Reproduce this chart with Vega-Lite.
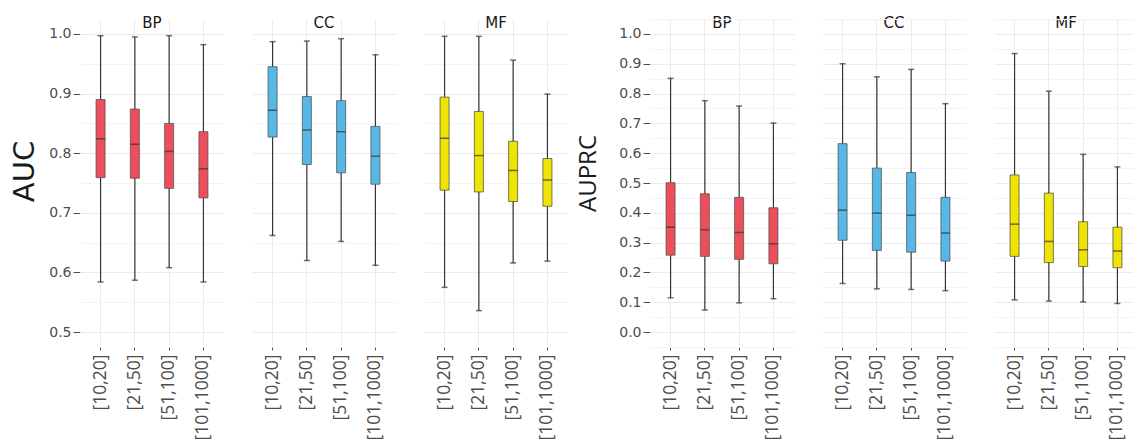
{
  "$schema": "https://vega.github.io/schema/vega-lite/v6.json",
  "padding": {"left": 10, "top": 16, "right": 0, "bottom": 0},
  "background": "white",
  "datasets": {
    "auc": [
      {"ont": "BP", "bin": "[10,20]", "lo": 0.584, "q1": 0.759, "med": 0.824, "q3": 0.890, "hi": 0.997},
      {"ont": "BP", "bin": "[21,50]", "lo": 0.587, "q1": 0.758, "med": 0.815, "q3": 0.874, "hi": 0.995},
      {"ont": "BP", "bin": "[51,100]", "lo": 0.608, "q1": 0.741, "med": 0.803, "q3": 0.850, "hi": 0.997},
      {"ont": "BP", "bin": "[101,1000]", "lo": 0.584, "q1": 0.725, "med": 0.774, "q3": 0.836, "hi": 0.982},
      {"ont": "CC", "bin": "[10,20]", "lo": 0.662, "q1": 0.827, "med": 0.872, "q3": 0.945, "hi": 0.987},
      {"ont": "CC", "bin": "[21,50]", "lo": 0.620, "q1": 0.781, "med": 0.839, "q3": 0.895, "hi": 0.988},
      {"ont": "CC", "bin": "[51,100]", "lo": 0.652, "q1": 0.767, "med": 0.836, "q3": 0.888, "hi": 0.992},
      {"ont": "CC", "bin": "[101,1000]", "lo": 0.612, "q1": 0.748, "med": 0.795, "q3": 0.845, "hi": 0.965},
      {"ont": "MF", "bin": "[10,20]", "lo": 0.575, "q1": 0.738, "med": 0.825, "q3": 0.894, "hi": 0.996},
      {"ont": "MF", "bin": "[21,50]", "lo": 0.536, "q1": 0.735, "med": 0.796, "q3": 0.870, "hi": 0.996},
      {"ont": "MF", "bin": "[51,100]", "lo": 0.616, "q1": 0.719, "med": 0.771, "q3": 0.820, "hi": 0.956},
      {"ont": "MF", "bin": "[101,1000]", "lo": 0.619, "q1": 0.711, "med": 0.755, "q3": 0.791, "hi": 0.899}
    ],
    "auprc": [
      {"ont": "BP", "bin": "[10,20]", "lo": 0.115, "q1": 0.258, "med": 0.352, "q3": 0.501, "hi": 0.851},
      {"ont": "BP", "bin": "[21,50]", "lo": 0.074, "q1": 0.254, "med": 0.343, "q3": 0.464, "hi": 0.776},
      {"ont": "BP", "bin": "[51,100]", "lo": 0.098, "q1": 0.244, "med": 0.334, "q3": 0.452, "hi": 0.758},
      {"ont": "BP", "bin": "[101,1000]", "lo": 0.112, "q1": 0.229, "med": 0.296, "q3": 0.417, "hi": 0.701},
      {"ont": "CC", "bin": "[10,20]", "lo": 0.163, "q1": 0.308, "med": 0.409, "q3": 0.632, "hi": 0.900},
      {"ont": "CC", "bin": "[21,50]", "lo": 0.145, "q1": 0.274, "med": 0.399, "q3": 0.550, "hi": 0.856},
      {"ont": "CC", "bin": "[51,100]", "lo": 0.143, "q1": 0.268, "med": 0.392, "q3": 0.535, "hi": 0.881},
      {"ont": "CC", "bin": "[101,1000]", "lo": 0.139, "q1": 0.238, "med": 0.332, "q3": 0.452, "hi": 0.766},
      {"ont": "MF", "bin": "[10,20]", "lo": 0.108, "q1": 0.254, "med": 0.362, "q3": 0.527, "hi": 0.934},
      {"ont": "MF", "bin": "[21,50]", "lo": 0.104, "q1": 0.233, "med": 0.304, "q3": 0.466, "hi": 0.808},
      {"ont": "MF", "bin": "[51,100]", "lo": 0.101, "q1": 0.220, "med": 0.276, "q3": 0.370, "hi": 0.596},
      {"ont": "MF", "bin": "[101,1000]", "lo": 0.096, "q1": 0.216, "med": 0.272, "q3": 0.352, "hi": 0.554}
    ]
  },
  "spacing": 8,
  "hconcat": [
    {
      "data": {"name": "auc"},
      "facet": {"column": {"field": "ont", "type": "nominal", "title": null,
        "header": {"labelFont": "DejaVu Sans", "labelFontSize": 15, "labelColor": "#1A1A1A", "labelPadding": -12}}},
      "spacing": 28,
      "spec": {
        "width": 144,
        "height": 328,
        "encoding": {
          "x": {"field": "bin", "type": "nominal", "sort": ["[10,20]", "[21,50]", "[51,100]", "[101,1000]"],
            "scale": {"paddingInner": 0, "paddingOuter": 0.1},
            "axis": {"title": null, "labelAngle": -90, "labelFont": "Open Sans", "labelFontSize": 17.5, "labelColor": "#4D4D4D",
              "grid": true, "bandPosition": 0.5, "gridColor": "#EBEBEB", "gridWidth": 1, "tickColor": "#4D4D4D", "tickSize": 3, "labelPadding": 4}}
        },
        "layer": [
          {"mark": {"type": "rule", "color": "#333333", "strokeWidth": 1.2},
           "encoding": {"y": {"field": "lo", "type": "quantitative",
              "scale": {"domain": [0.475, 1.025], "nice": false, "zero": false},
              "axis": {"title": "AUC", "titleFont": "DejaVu Sans", "titleFontSize": 29, "titleFontWeight": "normal", "titleColor": "#1A1A1A", "titlePadding": 9, "titleY": 152,
                "tickCount": 12,
                "labelExpr": "round(datum.value*100) % 10 == 0 ? format(datum.value, '.1f') : ''",
                "labelOverlap": false,
                "labelFont": "DejaVu Sans",
                "labelFontSize": {"condition": {"test": "round(datum.value*100) % 10 == 0", "value": 14}, "value": 0},
                "labelColor": "#4D4D4D", "labelPadding": 2,
                "tickColor": "#4D4D4D",
                "tickSize": {"condition": {"test": "round(datum.value*100) % 10 == 0", "value": 7}, "value": 0},
                "gridColor": {"condition": {"test": "round(datum.value*100) % 10 == 0", "value": "#EBEBEB"}, "value": "#F4F4F4"},
                "gridWidth": 1}},
             "y2": {"field": "hi"}}},
          {"mark": {"type": "tick", "color": "#333333", "size": 6, "thickness": 1.5},
           "encoding": {"y": {"field": "lo", "type": "quantitative"}}},
          {"mark": {"type": "tick", "color": "#333333", "size": 6, "thickness": 1.5},
           "encoding": {"y": {"field": "hi", "type": "quantitative"}}},
          {"mark": {"type": "bar", "size": 9, "stroke": "#555555", "strokeWidth": 0.8},
           "encoding": {"y": {"field": "q1", "type": "quantitative"}, "y2": {"field": "q3"},
             "color": {"field": "ont", "type": "nominal", "scale": {"domain": ["BP", "CC", "MF"], "range": ["#EE4E5A", "#56B8E6", "#EEE400"]}, "legend": null}}},
          {"mark": {"type": "tick", "color": "#333333", "size": 9, "thickness": 1.5},
           "encoding": {"y": {"field": "med", "type": "quantitative"}}}
        ]
      }
    },
    {
      "data": {"name": "auprc"},
      "facet": {"column": {"field": "ont", "type": "nominal", "title": null,
        "header": {"labelFont": "DejaVu Sans", "labelFontSize": 15, "labelColor": "#1A1A1A", "labelPadding": -12}}},
      "spacing": 28,
      "spec": {
        "width": 144,
        "height": 328,
        "encoding": {
          "x": {"field": "bin", "type": "nominal", "sort": ["[10,20]", "[21,50]", "[51,100]", "[101,1000]"],
            "scale": {"paddingInner": 0, "paddingOuter": 0.1},
            "axis": {"title": null, "labelAngle": -90, "labelFont": "Open Sans", "labelFontSize": 17.5, "labelColor": "#4D4D4D",
              "grid": true, "bandPosition": 0.5, "gridColor": "#EBEBEB", "gridWidth": 1, "tickColor": "#4D4D4D", "tickSize": 3, "labelPadding": 4}}
        },
        "layer": [
          {"mark": {"type": "rule", "color": "#333333", "strokeWidth": 1.2},
           "encoding": {"y": {"field": "lo", "type": "quantitative",
              "scale": {"domain": [-0.05, 1.05], "nice": false, "zero": false},
              "axis": {"title": "AUPRC", "titleFont": "Open Sans", "titleFontSize": 24, "titleFontWeight": "normal", "titleColor": "#1A1A1A", "titlePadding": 18, "titleY": 154,
                "tickCount": 22,
                "labelExpr": "round(datum.value*100) % 10 == 0 ? format(datum.value, '.1f') : ''",
                "labelOverlap": false,
                "labelFont": "DejaVu Sans",
                "labelFontSize": {"condition": {"test": "round(datum.value*100) % 10 == 0", "value": 14}, "value": 0},
                "labelColor": "#4D4D4D", "labelPadding": 2,
                "tickColor": "#4D4D4D",
                "tickSize": {"condition": {"test": "round(datum.value*100) % 10 == 0", "value": 7}, "value": 0},
                "gridColor": {"condition": {"test": "round(datum.value*100) % 10 == 0", "value": "#EBEBEB"}, "value": "#F4F4F4"},
                "gridWidth": 1}},
             "y2": {"field": "hi"}}},
          {"mark": {"type": "tick", "color": "#333333", "size": 6, "thickness": 1.5},
           "encoding": {"y": {"field": "lo", "type": "quantitative"}}},
          {"mark": {"type": "tick", "color": "#333333", "size": 6, "thickness": 1.5},
           "encoding": {"y": {"field": "hi", "type": "quantitative"}}},
          {"mark": {"type": "bar", "size": 9, "stroke": "#555555", "strokeWidth": 0.8},
           "encoding": {"y": {"field": "q1", "type": "quantitative"}, "y2": {"field": "q3"},
             "color": {"field": "ont", "type": "nominal", "scale": {"domain": ["BP", "CC", "MF"], "range": ["#EE4E5A", "#56B8E6", "#EEE400"]}, "legend": null}}},
          {"mark": {"type": "tick", "color": "#333333", "size": 9, "thickness": 1.5},
           "encoding": {"y": {"field": "med", "type": "quantitative"}}}
        ]
      }
    }
  ],
  "config": {
    "view": {"stroke": null},
    "axis": {"domain": false},
    "axisY": {"labelOverlap": false}
  }
}
